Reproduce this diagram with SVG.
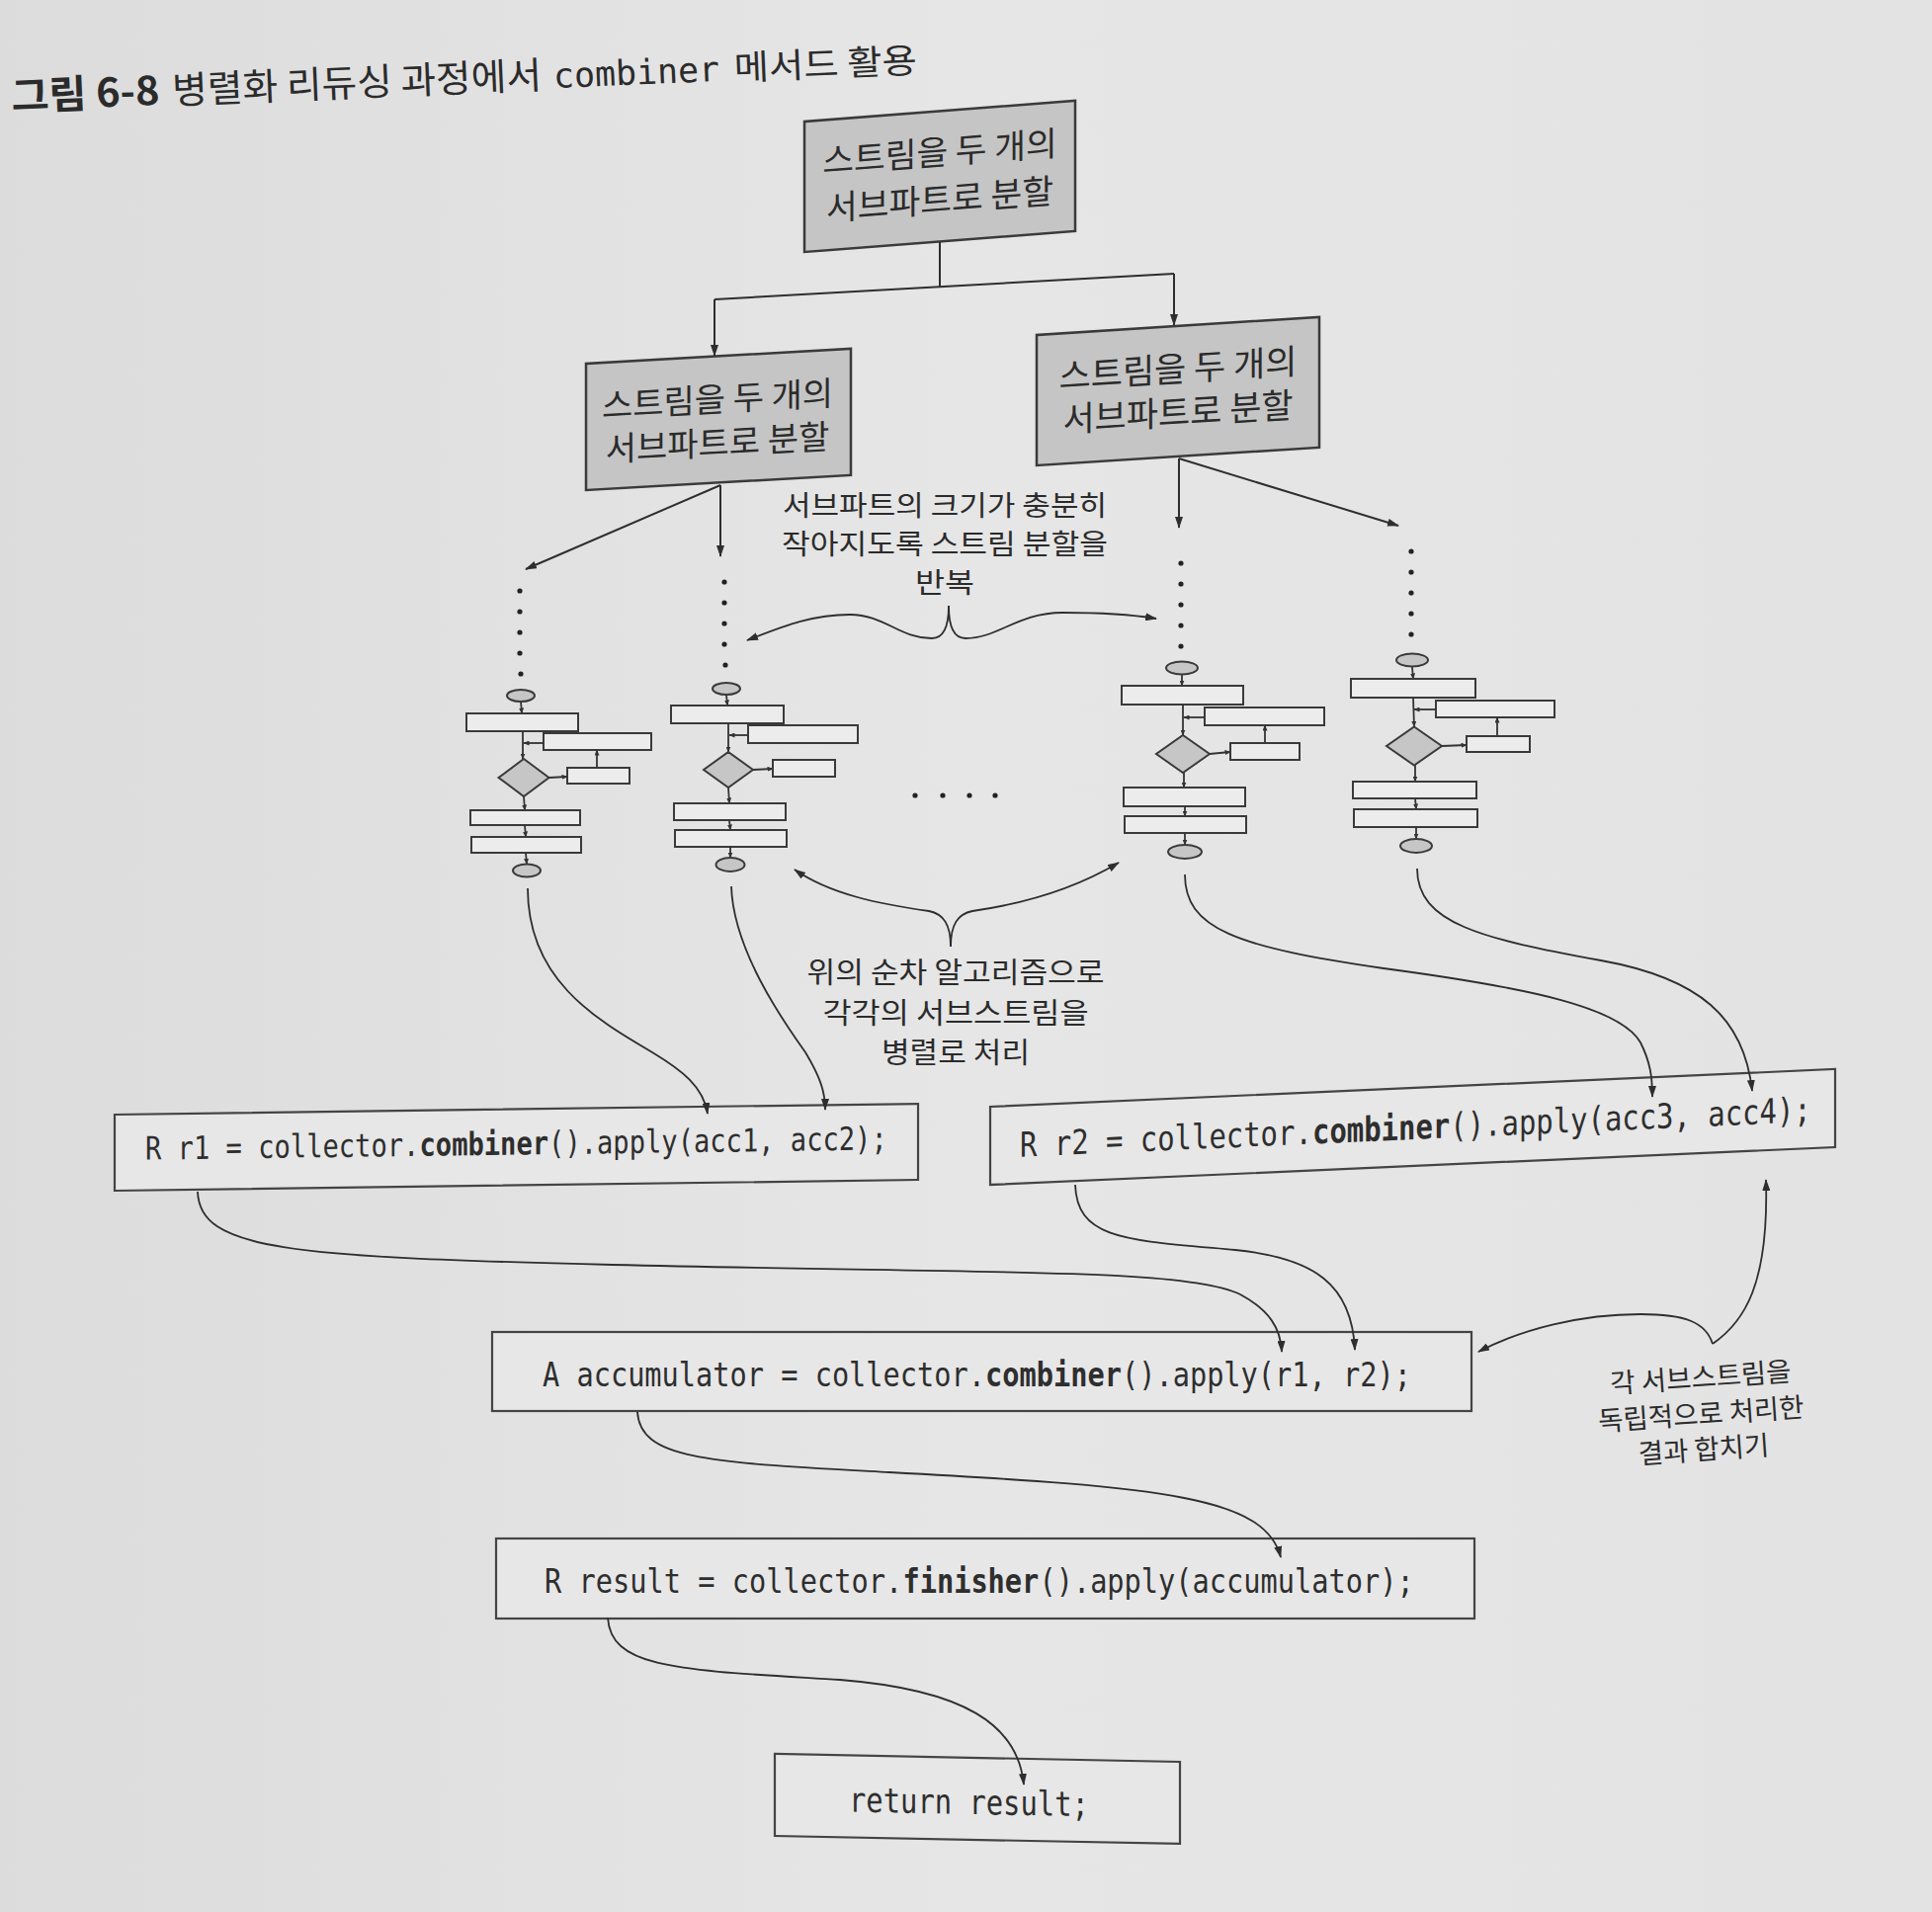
<svg xmlns="http://www.w3.org/2000/svg" width="1955" height="1935" viewBox="0 0 1955 1935">
<defs>
<linearGradient id="bg" x1="0" y1="0" x2="1" y2="0">
<stop offset="0" stop-color="#dcdcdc"/>
<stop offset="0.5" stop-color="#e6e6e6"/>
<stop offset="1" stop-color="#e3e3e3"/>
</linearGradient>
<marker id="ah" viewBox="0 0 12 8" refX="11" refY="4" markerWidth="12" markerHeight="8" markerUnits="userSpaceOnUse" orient="auto">
<path d="M0,0 L12,4 L0,8 z" fill="#2e2e2e"/>
</marker>
<marker id="as" viewBox="0 0 6 5" refX="5.5" refY="2.5" markerWidth="6" markerHeight="5" markerUnits="userSpaceOnUse" orient="auto">
<path d="M0,0 L6,2.5 L0,5 z" fill="#333"/>
</marker>
<style>
.gbox{fill:#c5c5c5;stroke:#3a3a3a;stroke-width:2.5}
.cbox{fill:#e7e7e7;stroke:#444;stroke-width:2.2}
.kr{font-family:"Noto Sans CJK KR","Noto Sans",sans-serif;fill:#2b2b2b}
.box{text-anchor:middle}
.lbl{text-anchor:middle}
.code{font-family:"DejaVu Sans Mono","Liberation Mono",monospace;fill:#2e2e2e}
.b{font-weight:bold}
.fr{fill:#ececec;stroke:#3a3a3a;stroke-width:2}
.fg{fill:#c6c6c6;stroke:#3a3a3a;stroke-width:2}
.fa{fill:none;stroke:#333;stroke-width:1.8;marker-end:url(#as)}
.ln{fill:none;stroke:#2e2e2e;stroke-width:2}
.ar{fill:none;stroke:#2e2e2e;stroke-width:2;marker-end:url(#ah)}
.cv{fill:none;stroke:#2e2e2e;stroke-width:1.8;marker-end:url(#ah)}
.dot{fill:#222}
</style>
</defs>
<rect width="1955" height="1935" fill="url(#bg)"/>

<g id="title" transform="rotate(-2.4 12 112)">
<text x="12" y="112" class="kr b" font-size="40" textLength="150" lengthAdjust="spacingAndGlyphs">그림 6-8</text>
<text x="175" y="112" class="kr" font-size="38" textLength="374" lengthAdjust="spacingAndGlyphs">병렬화 리듀싱 과정에서</text>
<text x="561" y="112" font-family="DejaVu Sans Mono, monospace" font-size="35" fill="#2b2b2b" textLength="168" lengthAdjust="spacingAndGlyphs">combiner</text>
<text x="744" y="112" class="kr" font-size="35" textLength="185" lengthAdjust="spacingAndGlyphs">메서드 활용</text>
</g>

<g id="node-split-top" transform="matrix(1,-0.077,0,1,0,62.7)">
<rect class="gbox" x="814" y="123" width="274" height="132"/>
<text class="kr box" x="951" y="177" font-size="34.5">스트림을 두 개의</text>
<text class="kr box" x="951" y="225" font-size="34.5">서브파트로 분할</text>
</g>

<g id="node-split-left" transform="matrix(1,-0.0566,0,1,0,33.6)">
<rect class="gbox" x="593" y="368" width="268" height="128"/>
<text class="kr box" x="726" y="424" font-size="34">스트림을 두 개의</text>
<text class="kr box" x="726" y="468" font-size="34">서브파트로 분할</text>
</g>

<g id="node-split-right" transform="matrix(1,-0.0634,0,1,0,66.5)">
<rect class="gbox" x="1049" y="339" width="286" height="132"/>
<text class="kr box" x="1192" y="395" font-size="35">스트림을 두 개의</text>
<text class="kr box" x="1192" y="439" font-size="35">서브파트로 분할</text>
</g>

<g id="label-repeat">
<text class="kr lbl" x="956" y="522" font-size="28.5" textLength="328" lengthAdjust="spacingAndGlyphs">서브파트의 크기가 충분히</text>
<text class="kr lbl" x="956" y="561" font-size="28.5" textLength="330" lengthAdjust="spacingAndGlyphs">작아지도록 스트림 분할을</text>
<text class="kr lbl" x="956" y="600" font-size="28.5" textLength="60" lengthAdjust="spacingAndGlyphs">반복</text>
</g>

<g id="dots">
<circle class="dot" cx="526" cy="598" r="2.6"/><circle class="dot" cx="526" cy="619" r="2.6"/><circle class="dot" cx="526" cy="640" r="2.6"/><circle class="dot" cx="526" cy="661" r="2.6"/><circle class="dot" cx="527" cy="682" r="2.6"/>
<circle class="dot" cx="733" cy="589" r="2.6"/><circle class="dot" cx="733" cy="610" r="2.6"/><circle class="dot" cx="733" cy="631" r="2.6"/><circle class="dot" cx="733" cy="652" r="2.6"/><circle class="dot" cx="734" cy="673" r="2.6"/>
<circle class="dot" cx="1195" cy="570" r="2.6"/><circle class="dot" cx="1195" cy="591" r="2.6"/><circle class="dot" cx="1195" cy="612" r="2.6"/><circle class="dot" cx="1195" cy="633" r="2.6"/><circle class="dot" cx="1195" cy="654" r="2.6"/>
<circle class="dot" cx="1428" cy="558" r="2.6"/><circle class="dot" cx="1428" cy="579" r="2.6"/><circle class="dot" cx="1428" cy="600" r="2.6"/><circle class="dot" cx="1428" cy="621" r="2.6"/><circle class="dot" cx="1428" cy="642" r="2.6"/>
<circle class="dot" cx="926" cy="805" r="2.6"/><circle class="dot" cx="954" cy="805" r="2.6"/><circle class="dot" cx="981" cy="805" r="2.6"/><circle class="dot" cx="1007" cy="805" r="2.6"/>
</g>

<g id="flowchart-1">
<path class="fa" d="M527,710 L528,722"/>
<rect class="fr" x="472" y="722" width="113" height="18"/>
<path class="fa" d="M529,740 L529,768"/>
<rect class="fr" x="550" y="742" width="109" height="17"/>
<path class="fa" d="M550,752 L530,752"/>
<rect class="fr" x="574" y="777" width="63" height="16"/>
<path class="fa" d="M604,777 L604,759"/>
<path class="fg" d="M530,768 L555.5,787 L530,806 L504.5,787 Z"/>
<path class="fa" d="M555.5,787 L574,786"/>
<path class="fa" d="M530,806 L531,820"/>
<rect class="fr" x="476" y="820" width="111" height="15"/>
<path class="fa" d="M531,835 L532,847"/>
<rect class="fr" x="477" y="847" width="111" height="16"/>
<path class="fa" d="M532,863 L533,874.5"/>
<ellipse class="fg" cx="527" cy="704" rx="14" ry="6"/>
<ellipse class="fg" cx="533" cy="881" rx="14" ry="6.5"/>
</g>

<g id="flowchart-2">
<path class="fa" d="M735,703 L736,714"/>
<rect class="fr" x="679" y="714" width="114" height="18"/>
<path class="fa" d="M737,732 L737,761"/>
<rect class="fr" x="757" y="734" width="111" height="18"/>
<path class="fa" d="M757,744 L738,744"/>
<path class="fg" d="M737,761 L762,779 L737,797 L712,779 Z"/>
<path class="fa" d="M762,779 L782,778"/>
<rect class="fr" x="782" y="769" width="63" height="17"/>
<path class="fa" d="M737,797 L738,813"/>
<rect class="fr" x="682" y="813" width="113" height="17"/>
<path class="fa" d="M738,830 L739,840"/>
<rect class="fr" x="683" y="840" width="113" height="17"/>
<path class="fa" d="M739,857 L739,868"/>
<ellipse class="fg" cx="735" cy="697" rx="14" ry="6"/>
<ellipse class="fg" cx="739" cy="875" rx="14.5" ry="7"/>
</g>

<g id="flowchart-3">
<path class="fa" d="M1196,683 L1196,694"/>
<rect class="fr" x="1135" y="694" width="123" height="19"/>
<path class="fa" d="M1197,713 L1197,744"/>
<rect class="fr" x="1219" y="716" width="121" height="18"/>
<path class="fa" d="M1219,726 L1198,726"/>
<path class="fa" d="M1280,752 L1280,734"/>
<path class="fg" d="M1197,744 L1224,763 L1197,782 L1170,763 Z"/>
<path class="fa" d="M1224,763 L1245,761"/>
<rect class="fr" x="1245" y="752" width="70" height="17"/>
<path class="fa" d="M1198,782 L1198,797"/>
<rect class="fr" x="1137" y="797" width="123" height="19"/>
<path class="fa" d="M1199,816 L1199,826"/>
<rect class="fr" x="1138" y="826" width="123" height="17"/>
<path class="fa" d="M1199,843 L1199,855"/>
<ellipse class="fg" cx="1196" cy="676" rx="16" ry="6.5"/>
<ellipse class="fg" cx="1199" cy="862" rx="17" ry="7"/>
</g>

<g id="flowchart-4">
<path class="fa" d="M1429,675 L1430,687"/>
<rect class="fr" x="1367" y="687" width="126" height="19"/>
<path class="fa" d="M1430,706 L1431,735.5"/>
<rect class="fr" x="1453" y="709" width="120" height="17"/>
<path class="fa" d="M1453,718 L1431,718"/>
<path class="fa" d="M1515,745 L1515,726"/>
<path class="fg" d="M1431,735.5 L1459,755 L1431,774.5 L1403,755 Z"/>
<path class="fa" d="M1459,755 L1484,754"/>
<rect class="fr" x="1484" y="745" width="64" height="16"/>
<path class="fa" d="M1432,774.5 L1432,791"/>
<rect class="fr" x="1369" y="791" width="125" height="17"/>
<path class="fa" d="M1432,808 L1433,819"/>
<rect class="fr" x="1370" y="819" width="125" height="18"/>
<path class="fa" d="M1433,837 L1433,849"/>
<ellipse class="fg" cx="1429" cy="668" rx="16" ry="6.5"/>
<ellipse class="fg" cx="1433" cy="856" rx="16" ry="7"/>
</g>

<g id="label-parallel">
<text class="kr lbl" x="967" y="995" font-size="29" textLength="301" lengthAdjust="spacingAndGlyphs">위의 순차 알고리즘으로</text>
<text class="kr lbl" x="967" y="1036" font-size="29" textLength="269" lengthAdjust="spacingAndGlyphs">각각의 서브스트림을</text>
<text class="kr lbl" x="967" y="1076" font-size="29" textLength="150" lengthAdjust="spacingAndGlyphs">병렬로 처리</text>
</g>

<g id="code-r1" transform="matrix(1,-0.0135,0,1,0,1.57)">
<rect class="cbox" x="116" y="1128" width="813" height="77"/>
<g transform="translate(0,1174) scale(1,1.2)">
<text class="code" x="147" y="0" font-size="27.12">R r1 = collector.</text>
<text class="code b" x="424.5" y="0" font-size="27.12">combiner</text>
<text class="code" x="555.1" y="0" font-size="27.12">().apply(acc1, acc2);</text>
</g>
</g>

<g id="code-r2" transform="matrix(1,-0.0445,0,1,0,44.6)">
<rect class="cbox" x="1002" y="1120" width="855" height="79"/>
<g transform="translate(0,1172) scale(1,1.2)">
<text class="code" x="1032" y="0" font-size="28.92">R r2 = collector.</text>
<text class="code b" x="1328" y="0" font-size="28.92">combiner</text>
<text class="code" x="1467.3" y="0" font-size="28.92">().apply(acc3, acc4);</text>
</g>
</g>

<g id="code-accumulator">
<rect class="cbox" x="498" y="1348" width="991" height="80"/>
<g transform="translate(0,1403) scale(1,1.2)">
<text class="code" x="549" y="0" font-size="28.63">A accumulator = collector.</text>
<text class="code b" x="997.1" y="0" font-size="28.63">combiner</text>
<text class="code" x="1135" y="0" font-size="28.63">().apply(r1, r2);</text>
</g>
</g>

<g id="label-merge" transform="rotate(-4 1722 1440)">
<text class="kr lbl" x="1724" y="1404" font-size="27.5">각 서브스트림을</text>
<text class="kr lbl" x="1722" y="1441" font-size="27.5">독립적으로 처리한</text>
<text class="kr lbl" x="1722" y="1477" font-size="27.5">결과 합치기</text>
</g>

<g id="code-result">
<rect class="cbox" x="502" y="1557" width="990" height="81"/>
<g transform="translate(0,1612) scale(1,1.2)">
<text class="code" x="551" y="0" font-size="28.66">R result = collector.</text>
<text class="code b" x="913.4" y="0" font-size="28.66">finisher</text>
<text class="code" x="1051.4" y="0" font-size="28.66">().apply(accumulator);</text>
</g>
</g>

<g id="code-return" transform="matrix(1,0.0195,0,1,0,-15.3)">
<rect class="cbox" x="784" y="1775" width="410" height="83"/>
<g transform="translate(0,1832) scale(1,1.2)">
<text class="code" x="859" y="0" font-size="28.83">return result;</text>
</g>
</g>

<g id="connectors">
<path class="ln" d="M951,245 L951,290"/>
<path class="ln" d="M723,303 L1188,277"/>
<path class="ar" d="M723,303 L723,360"/>
<path class="ar" d="M1188,277 L1188,329"/>
<path class="ar" d="M729,491 L532,576"/>
<path class="ar" d="M729,491 L729,563"/>
<path class="ar" d="M1193,464 L1193,534"/>
<path class="ar" d="M1193,464 L1415,532"/>
<path class="cv" d="M960,613 C960,635 955,646 943,646 C910,646 895,622 860,622 C820,622 790,635 756,648"/>
<path class="cv" d="M960,613 C960,635 965,646 977,646 C1010,646 1030,620 1075,620 C1115,620 1145,622 1170,626"/>
<path class="cv" d="M962,958 C962,936 955,925 940,922 C890,915 840,905 804,880"/>
<path class="cv" d="M962,958 C962,936 969,925 984,922 C1040,914 1090,898 1132,873"/>
<path class="cv" d="M534,899 C534,990 600,1030 660,1065 C690,1083 712,1100 716,1127"/>
<path class="cv" d="M740,897 C742,960 790,1030 815,1065 C830,1090 835,1105 835,1123"/>
<path class="cv" d="M1199,885 C1199,940 1250,958 1400,980 C1550,1000 1640,1020 1660,1055 C1670,1075 1672,1090 1672,1110"/>
<path class="cv" d="M1434,879 C1434,935 1500,950 1620,972 C1720,990 1765,1030 1773,1104"/>
<path class="cv" d="M200,1206 C202,1265 290,1272 620,1280 C1000,1289 1200,1283 1255,1310 C1285,1326 1296,1345 1297,1368"/>
<path class="cv" d="M1088,1199 C1090,1255 1140,1255 1250,1265 C1330,1273 1368,1300 1371,1366"/>
<path class="cv" d="M1733,1360 C1726,1338 1705,1330 1660,1330 C1600,1330 1540,1345 1496,1368"/>
<path class="cv" d="M1733,1360 C1765,1338 1790,1300 1787,1194"/>
<path class="cv" d="M645,1429 C648,1478 720,1480 900,1490 C1180,1505 1280,1515 1296,1576"/>
<path class="cv" d="M615,1637 C618,1690 690,1690 850,1700 C975,1710 1030,1745 1036,1806"/>
</g>
</svg>
